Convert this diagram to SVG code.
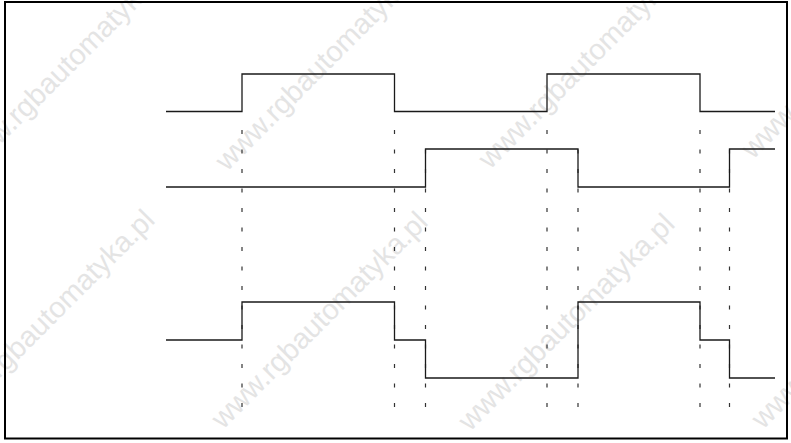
<svg xmlns="http://www.w3.org/2000/svg" width="791" height="443" viewBox="0 0 791 443">
<style>
.wm{font-family:"Liberation Sans",Arial,sans-serif;font-size:29px;fill:#e4e4e4}
.wave{fill:none;stroke:#1a1a1a;stroke-width:1.3}
.dash{fill:none;stroke:#333;stroke-width:1.2;stroke-dasharray:4 15.5}
</style>
<rect x="0" y="0" width="791" height="443" fill="#fff"/>
<g id="watermarks">
<text class="wm" transform="translate(-30,175) rotate(-45)">www.rgbautomatyka.pl</text>
<text class="wm" transform="translate(227,172) rotate(-45)">www.rgbautomatyka.pl</text>
<text class="wm" transform="translate(490,170) rotate(-45)">www.rgbautomatyka.pl</text>
<text class="wm" transform="translate(753,160) rotate(-45)">www.rgbautomatyka.pl</text>
<text class="wm" transform="translate(-50,428) rotate(-45)">www.rgbautomatyka.pl</text>
<text class="wm" transform="translate(223,430) rotate(-45)">www.rgbautomatyka.pl</text>
<text class="wm" transform="translate(470,432) rotate(-45)">www.rgbautomatyka.pl</text>
<text class="wm" transform="translate(763,430) rotate(-45)">www.rgbautomatyka.pl</text>
</g>
<rect id="frame" x="5" y="2" width="782" height="436.5" fill="none" stroke="#000" stroke-width="2"/>
<g id="connectors">
<line class="dash" x1="242" y1="130" x2="242" y2="412"/>
<line class="dash" x1="394.5" y1="130" x2="394.5" y2="407"/>
<line class="dash" x1="425.5" y1="149.5" x2="425.5" y2="407"/>
<line class="dash" x1="547" y1="130" x2="547" y2="407"/>
<line class="dash" x1="578" y1="149.5" x2="578" y2="407"/>
<line class="dash" x1="700" y1="130" x2="700" y2="407"/>
<line class="dash" x1="729.5" y1="149.5" x2="729.5" y2="407"/>
</g>
<g id="signal1">
<path class="wave" d="M166,111.5 H242 V74 H394.5 V111.5 H547 V74 H700 V111.5 H775"/>
</g>
<g id="signal2">
<path class="wave" d="M166,187 H425.5 V149 H578 V187 H729.5 V149 H775"/>
</g>
<g id="signal3">
<path class="wave" d="M166,340 H242 V302 H394.5 V340 H425.5 V378 H578 V302 H700 V340 H729.5 V378 H775"/>
</g>
</svg>
